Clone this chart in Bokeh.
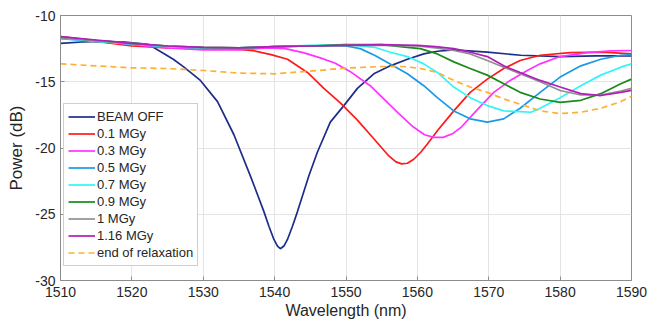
from bokeh.plotting import figure
from bokeh.models import Legend, LegendItem, FixedTicker
from bokeh.embed import file_html
from bokeh.resources import INLINE

# ---------------- data ----------------
x_ticks = [1510, 1520, 1530, 1540, 1550, 1560, 1570, 1580, 1590]
y_ticks = [-30, -25, -20, -15, -10]
y_tick_labels = ["-30", "-25", "-20", "-15", "-10"]

labels = ["BEAM OFF", "0.1 MGy", "0.3 MGy", "0.5 MGy", "0.7 MGy",
          "0.9 MGy", "1 MGy", "1.16 MGy", "end of relaxation"]

wl_off = [1510, 1513, 1516, 1519, 1522, 1523, 1525.8, 1527.3, 1529.6, 1532.0, 1534.3,
          1536.6, 1538.5, 1539.2, 1539.9, 1540.4, 1540.8, 1541.3, 1541.8, 1542.5, 1543.2,
          1544.8, 1546.0, 1547.8, 1549.7, 1551.6, 1553.9, 1556.2, 1558.6, 1560.9, 1562.8,
          1565.1, 1569.8, 1574.5, 1580, 1585, 1590]
p_off = [-12.1, -12.0, -11.95, -12.0, -12.15, -12.4, -13.3, -13.9, -14.9, -16.5, -19.0,
         -22.1, -24.8, -25.9, -26.9, -27.4, -27.6, -27.4, -26.9, -25.9, -24.8,
         -22.1, -20.3, -18.05, -16.8, -15.5, -14.4, -13.8, -13.3, -12.9, -12.7,
         -12.6, -12.77, -13.0, -13.1, -13.05, -13.05]

wl_01 = [1510, 1515, 1520, 1525, 1530, 1535, 1537, 1539.5, 1541.8, 1544.6, 1546.9, 1549.2,
         1551.6, 1553.9, 1556.0, 1557.0, 1557.8, 1558.6, 1559.5, 1560.5, 1561.4, 1562.8,
         1565.1, 1567.4, 1569.8, 1572.1, 1574.4, 1577.2, 1581.4, 1586, 1590]
p_01 = [-11.6, -11.95, -12.3, -12.45, -12.5, -12.55, -12.65, -12.95, -13.3, -14.3, -15.5,
        -16.6, -17.9, -19.3, -20.6, -21.05, -21.2, -21.15, -20.85, -20.3, -19.7, -18.7,
        -17.2, -15.8, -14.8, -14.0, -13.4, -13.0, -12.8, -12.77, -12.9]

wl_03 = [1510, 1515, 1520, 1525, 1530, 1535, 1539, 1541.5, 1544.0, 1546.4, 1548.5, 1550.5,
         1553.4, 1555.5, 1557.4, 1559.4, 1561.0, 1562.3, 1563.6, 1565.0, 1566.2, 1568.4,
         1570.7, 1573, 1575.4, 1577.2, 1580, 1583.8, 1587.1, 1590]
p_03 = [-11.6, -11.9, -12.2, -12.45, -12.6, -12.6, -12.45, -12.5, -12.8, -13.2, -13.6, -14.2,
        -15.3, -16.4, -17.4, -18.4, -19.0, -19.2, -19.2, -18.9, -18.4, -17.1,
        -15.8, -14.9, -14.15, -13.65, -13.1, -12.8, -12.67, -12.64]

wl_05 = [1510, 1515, 1520, 1525, 1530, 1535, 1540, 1545, 1550, 1552, 1554, 1556, 1558.6,
         1560.9, 1562.8, 1565.1, 1567.4, 1569.8, 1572.1, 1574.4, 1577.2, 1580, 1582.9,
         1585.7, 1588.5, 1590]
p_05 = [-11.75, -11.95, -12.15, -12.35, -12.45, -12.45, -12.35, -12.3, -12.3, -12.5, -13.0,
        -13.6, -14.4, -15.3, -16.2, -17.2, -17.8, -18.05, -17.8, -17.0, -15.8, -14.65,
        -13.8, -13.3, -13.0, -12.97]

wl_07 = [1510, 1515, 1520, 1525, 1530, 1535, 1540, 1545, 1550, 1554, 1556.2, 1558.6,
         1560.9, 1562.8, 1565.1, 1567.4, 1569.8, 1572.1, 1574.4, 1575.9, 1577.2, 1580,
         1582.9, 1585.7, 1588.5, 1590]
p_07 = [-11.7, -11.95, -12.15, -12.35, -12.45, -12.45, -12.35, -12.25, -12.2, -12.4, -12.77,
        -13.1, -13.65, -14.3, -15.4, -16.2, -16.8, -17.2, -17.25, -17.3, -17.0, -16.2,
        -15.3, -14.5, -13.9, -13.65]

wl_09 = [1510, 1515, 1520, 1525, 1530, 1535, 1540, 1545, 1550, 1555, 1558.6, 1560.4,
         1562.8, 1565.1, 1567.4, 1569.8, 1572.1, 1574.4, 1577.2, 1580, 1582.9, 1585.7,
         1588.5, 1590]
p_09 = [-11.65, -11.9, -12.1, -12.3, -12.4, -12.45, -12.35, -12.3, -12.2, -12.2, -12.4,
        -12.5, -12.9, -13.5, -14.0, -14.5, -15.15, -15.8, -16.3, -16.55, -16.4, -15.9,
        -15.15, -14.8]

wl_1 = [1510, 1515, 1520, 1525, 1530, 1535, 1540, 1545, 1550, 1555, 1560, 1562.5,
        1565.1, 1567.4, 1569.8, 1572.1, 1574.4, 1577.2, 1580, 1582.9, 1585.7, 1588.5, 1590]
p_1 = [-11.65, -11.9, -12.1, -12.3, -12.4, -12.45, -12.35, -12.3, -12.25, -12.25, -12.3,
       -12.45, -12.64, -12.9, -13.4, -13.9, -14.4, -15.0, -15.66, -16.0, -16.0, -15.7, -15.5]

wl_116 = [1510, 1515, 1520, 1525, 1530, 1535, 1540, 1545, 1550, 1555, 1560, 1562.5,
          1565.1, 1567.4, 1569.8, 1572.1, 1574.4, 1577.2, 1580, 1582.9, 1585.7, 1588.5, 1590]
p_116 = [-11.6, -11.85, -12.1, -12.3, -12.4, -12.45, -12.35, -12.3, -12.25, -12.2, -12.25,
         -12.35, -12.5, -12.77, -13.1, -13.8, -14.3, -14.9, -15.4, -15.9, -16.04, -15.8, -15.65]

wl_rel = [1510, 1515, 1520, 1525, 1530, 1535, 1540, 1545, 1550, 1555, 1558, 1560.5, 1562.8,
          1565.1, 1567.4, 1569.8, 1572.1, 1574.4, 1577.2, 1580, 1582.9, 1585.7, 1588.5, 1590]
p_rel = [-13.65, -13.8, -13.95, -14.0, -14.15, -14.35, -14.4, -14.2, -13.97, -13.85, -13.85,
         -14.0, -14.3, -14.9, -15.4, -15.8, -16.3, -16.7, -17.2, -17.4, -17.3, -17.0,
         -16.5, -16.1]

series_x = [wl_off, wl_01, wl_03, wl_05, wl_07, wl_09, wl_1, wl_116, wl_rel]
series_y = [p_off, p_01, p_03, p_05, p_07, p_09, p_1, p_116, p_rel]
colors = ["#1f2d8a", "#ff1a1a", "#ff33ff", "#1a9ae6", "#33f5f8", "#1a8a1a",
          "#909090", "#b01eb8", "#ffb030"]
dashes = ["solid"] * 8 + ["6 4"]

# ---------------- figure ----------------
FONT = "Liberation Sans"
p = figure(width=648, height=323, x_range=(1510, 1590), y_range=(-30, -10),
           output_backend="svg", toolbar_location=None,
           min_border_left=60, min_border_right=17, min_border_top=15,
           min_border_bottom=43)
p.background_fill_color = "white"
p.border_fill_color = "white"
p.outline_line_color = "#8c8c8c"
p.outline_line_width = 1

p.xaxis.ticker = FixedTicker(ticks=x_ticks)
p.yaxis.ticker = FixedTicker(ticks=y_ticks)
p.yaxis.major_label_overrides = dict(zip(y_ticks, y_tick_labels))
for ax in (p.xaxis[0], p.yaxis[0]):
    ax.axis_line_color = "#8c8c8c"
    ax.major_tick_line_color = "#8c8c8c"
    ax.major_tick_in = 4
    ax.major_tick_out = 0
    ax.minor_tick_line_color = None
    ax.major_label_text_font = FONT
    ax.major_label_text_font_size = "14px"
    ax.major_label_text_color = "#262626"
    ax.axis_label_text_font = FONT
    ax.axis_label_text_font_style = "normal"
    ax.axis_label_text_color = "#262626"
p.xaxis.axis_label = "Wavelength (nm)"
p.yaxis.axis_label = "Power (dB)"
p.xaxis.axis_label_text_font_size = "16px"
p.yaxis.axis_label_text_font_size = "17px"
p.xaxis.major_label_standoff = 6
p.xaxis.axis_label_standoff = 2
p.yaxis.major_label_standoff = 5
p.yaxis.axis_label_standoff = 6

p.grid.grid_line_color = "#e4e4e4"
p.grid.grid_line_width = 1

items = []
for xs, ys, c, d, lab in zip(series_x, series_y, colors, dashes, labels):
    r = p.line(xs, ys, line_color=c, line_width=1.7, line_dash=d)
    items.append(LegendItem(label=lab, renderers=[r]))

legend = Legend(items=items, location=(3, 14))
legend.label_text_font = FONT
legend.label_text_font_size = "13px"
legend.label_text_color = "#262626"
legend.glyph_width = 27
legend.glyph_height = 17
legend.label_height = 17
legend.label_standoff = 2
legend.spacing = 0
legend.padding = 4
legend.margin = 0
legend.border_line_color = "#a0a0a0"
legend.border_line_width = 1
legend.background_fill_color = "white"
legend.background_fill_alpha = 1
p.add_layout(legend, "center")

open("out.html", "w").write(file_html(p, INLINE))
